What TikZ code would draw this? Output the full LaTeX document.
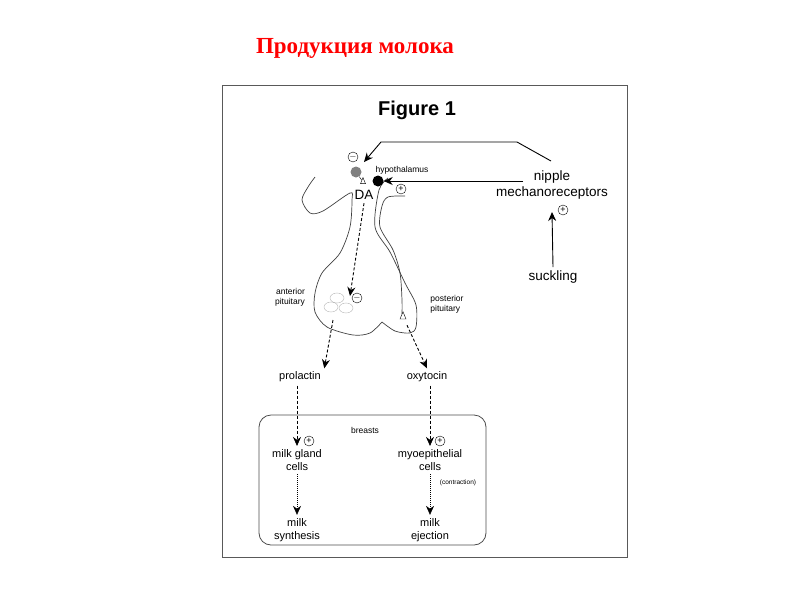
\documentclass[tikz,border=0pt]{standalone}
\usepackage{fontspec}
\setmainfont{Liberation Sans}
\newfontfamily\titlefont{Liberation Serif}
\usetikzlibrary{arrows.meta,shapes.geometric}
\begin{document}
\begin{tikzpicture}[x=1pt,y=-1pt,
  arr/.style={-{Stealth[length=9pt,width=8pt]},black,line width=0.9pt},
  dsh/.style={arr,dash pattern=on 3pt off 2pt},
  dot2/.style={arr,line width=0.6pt,dash pattern=on 1pt off 1pt},
  sign/.style={circle,draw,inner sep=0pt,minimum size=10pt,font=\fontsize{9}{9}\selectfont},
  lbl/.style={font=\fontsize{11}{13}\selectfont,align=center},
  sml/.style={font=\fontsize{8.5}{10}\selectfont,align=center},
  big/.style={font=\fontsize{13.5}{16}\selectfont,align=center},
  outl/.style={black!75,line width=0.7pt}]
\useasboundingbox (0,0) rectangle (800,600);
\node[font=\titlefont\bfseries\fontsize{23}{25}\selectfont,text=red] (title) at (355,48) {Продукция молока};
\draw[gray!70!black,line width=1pt] (222,85) rectangle (627,557);
\node[font=\bfseries\fontsize{20}{22}\selectfont] (fig) at (417,110) {Figure 1};
% gland outline
\draw[outl] plot[smooth,tension=0.5] coordinates {(388,178) (379,190) (375,227) (390,252) (405,283) (416,305) (416,327) (410,333) (395,331) (382,322)}
  -- plot[smooth,tension=0.5] coordinates {(382,322) (370,333) (353,335) (327,327) (315,312) (315,293) (322,273) (340,253) (350,227) (352,200) (350,193) (323,211) (310,213) (302,200) (308,187) (315,177)};
\draw[outl] plot[smooth,tension=0.5] coordinates {(405,196) (388,197) (382,206) (380,227) (393,250) (400,273) (402,300) (402,314)};
% cells
\foreach \p in {(337,298),(331,307),(346,308)}
  \draw[gray!60] \p ellipse (7 and 5);
\node[draw,isosceles triangle,shape border rotate=90,inner sep=0pt,minimum size=6pt] (tri2) at (403,317) {};
% hypothalamus
\node[circle,fill=gray,minimum size=11pt,inner sep=0pt] (gdot) at (356,172) {};
\node[draw,isosceles triangle,shape border rotate=90,inner sep=0pt,minimum size=5pt] (tri1) at (363,182) {};
\draw (gdot) -- (tri1);
\node[big] (da) at (364,195) {DA};
\node[sign] (m1) at (353,157) {$-$};
\node[circle,fill=black,minimum size=11pt,inner sep=0pt] (bdot) at (378,181) {};
\node[sml] (hyp) at (402,170) {hypothalamus};
\node[sign] (p1) at (401,189) {+};
% right side
\node[big] (nip) at (552,185) {nipple\\mechanoreceptors};
\node[big] (suck) at (553,277) {suckling};
\node[sign] (p2) at (563,210) {+};
\draw[arr] (suck.north) -- (552,212);
\coordinate (c1) at (517,142);
\coordinate (c2) at (381,142);
\coordinate (c0) at (551,161);
\draw[arr] (c0) -- (c1) -- (c2) -- (364,162);
\draw[arr] (523,181) -- (bdot.east);
% pituitary
\node[sign] (m2) at (357,298) {$-$};
\draw[dsh] (da.south) -- (350,296);
\node[sml,align=right] (ant) at (290,297) {anterior\\pituitary};
\node[sml,align=left] (post) at (447,304) {posterior\\pituitary};
\node[lbl] (prl) at (300,377) {prolactin};
\node[lbl] (oxy) at (427,377) {oxytocin};
\draw[dsh] (333,320) -- (prl.north east);
\draw[dsh] (tri2.south) ++(4,6) -- (oxy.north);
% breasts
\draw[black!70,line width=0.8pt,rounded corners=12pt] (259,415) rectangle (486,545);
\node[sml] (br) at (365,430) {breasts};
\node[lbl] (mg) at (297,460) {milk gland\\cells};
\node[lbl] (my) at (430,460) {myoepithelial\\cells};
\node[sign] (p3) at (309,441) {+};
\node[sign] (p4) at (440,441) {+};
\draw[dsh,line width=0.7pt] (prl.south -| mg) -- (mg.north);
\draw[dsh,line width=0.7pt] (oxy.south -| my) -- (my.north);
\node[lbl] (ms) at (297,530) {milk\\synthesis};
\node[lbl] (me) at (430,530) {milk\\ejection};
\draw[dot2] (mg.south) -- (ms.north);
\draw[dot2] (my.south) -- (me.north);
\node[font=\fontsize{6.5}{8}\selectfont] (con) at (458,483) {(contraction)};
\end{tikzpicture}
\end{document}
